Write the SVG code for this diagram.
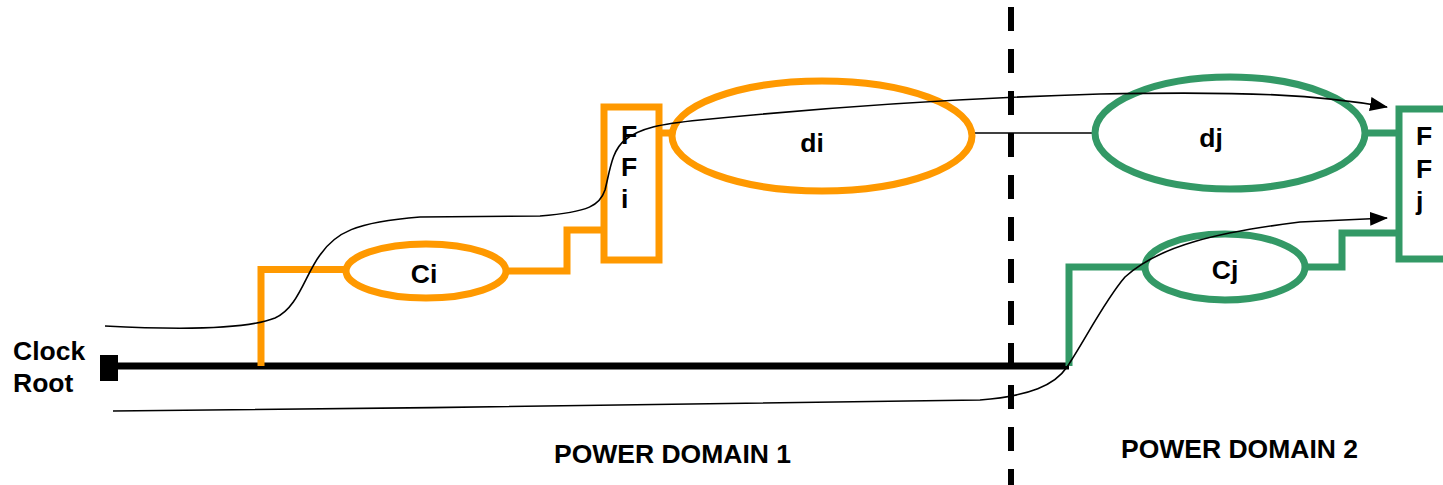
<svg xmlns="http://www.w3.org/2000/svg" width="1443" height="485" viewBox="0 0 1443 485">
<defs>
<style>
.t{font-family:"Liberation Sans",Arial,sans-serif;font-weight:bold;font-size:26.5px;fill:#000}
.o{fill:none;stroke:#FF9900;stroke-width:7}
.g{fill:none;stroke:#339966;stroke-width:7}
.w{fill:none;stroke:#000;stroke-width:1.6}
</style>
<marker id="arr" markerWidth="18" markerHeight="14" refX="17" refY="7" orient="auto" markerUnits="userSpaceOnUse">
<path d="M0,0 L18,7 L0,14 Z" fill="#000"/>
</marker>
</defs>
<rect width="1443" height="485" fill="#fff"/>
<g id="divider">
<line x1="1011" y1="7" x2="1011" y2="485" stroke="#000" stroke-width="6" stroke-dasharray="24 18"/>
</g>
<g id="clock-root">
<line x1="110" y1="366" x2="1069" y2="366" stroke="#000" stroke-width="7"/>
<rect x="100" y="355" width="18" height="26" fill="#000"/>
<text class="t" x="13" y="360">Clock</text>
<text class="t" x="13" y="392">Root</text>
</g>
<g id="connectors">
<path class="o" d="M261,366 V269.5 H345"/>
<path class="o" d="M507,271 H567 V230 H604"/>
<path class="o" d="M659,133 H673"/>
<path class="g" d="M1069,366 V267 H1145"/>
<path class="g" d="M1305,267 H1342 V233 H1399"/>
<path class="g" d="M1366,133 H1399"/>
<line x1="973" y1="133" x2="1095" y2="133" stroke="#000" stroke-width="1.6"/>
</g>
<g id="Ci">
<ellipse class="o" cx="426" cy="271" rx="80" ry="27"/>
<text class="t" x="424" y="283" text-anchor="middle">Ci</text>
</g>
<g id="FFi">
<rect class="o" x="604" y="107" width="55" height="153"/>
<text class="t" x="621" y="144">F</text>
<text class="t" x="621" y="176">F</text>
<text class="t" x="621" y="208">i</text>
</g>
<g id="di">
<ellipse class="o" cx="822" cy="136" rx="150" ry="55"/>
<text class="t" x="812" y="152" text-anchor="middle">di</text>
</g>
<g id="dj">
<ellipse class="g" cx="1230" cy="133" rx="135" ry="56"/>
<text class="t" x="1211" y="147" text-anchor="middle">dj</text>
</g>
<g id="Cj">
<ellipse class="g" cx="1225" cy="267" rx="80" ry="33"/>
<text class="t" x="1225" y="279" text-anchor="middle">Cj</text>
</g>
<g id="FFj">
<rect class="g" x="1399" y="109" width="70" height="150"/>
<text class="t" x="1416" y="145">F</text>
<text class="t" x="1416" y="178">F</text>
<text class="t" x="1416" y="210">j</text>
</g>
<g id="paths">
<path class="w" marker-end="url(#arr)" d="M105,326 C180,330 245,330 275,318 C298,308 305,275 320,255 C335,233 355,222 420,217 L540,216 C590,212 600,205 605,190 C610,170 612,150 625,140 C640,128 660,124 700,120 C850,105 1000,97 1100,94 C1250,91 1320,95 1387,107"/>
<path class="w" marker-end="url(#arr)" d="M113,411 C400,408 800,404 980,400 C1030,396 1055,385 1067,367 C1085,340 1105,300 1125,277 C1160,245 1220,232 1300,222 L1387,218"/>
</g>
<g id="labels">
<text class="t" x="554" y="463">POWER DOMAIN 1</text>
<text class="t" x="1121" y="458">POWER DOMAIN 2</text>
</g>
</svg>
